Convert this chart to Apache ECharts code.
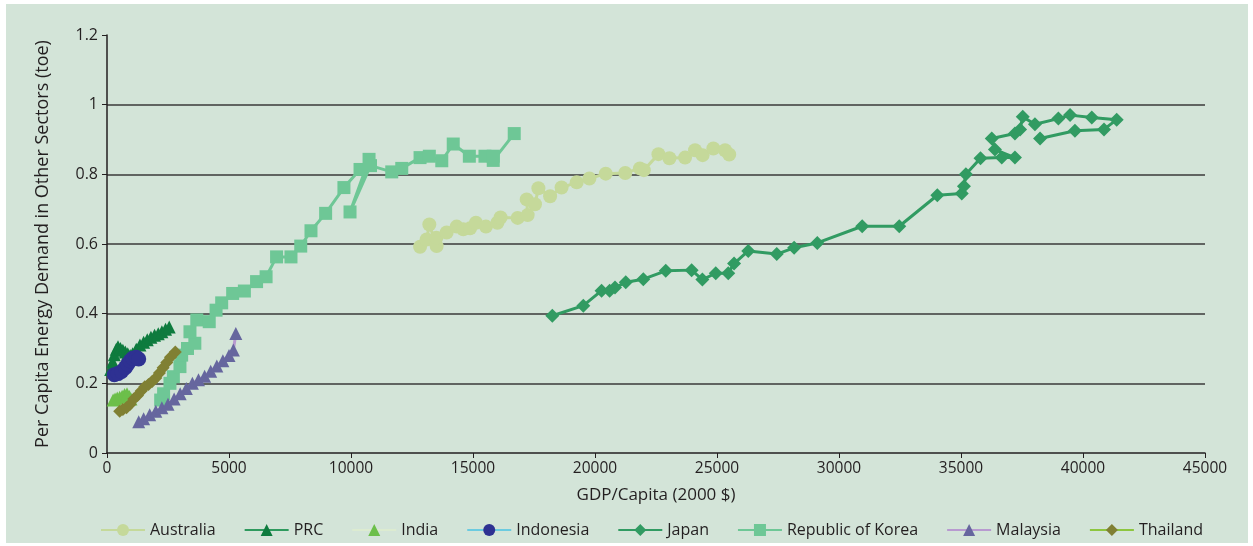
<!DOCTYPE html>
<html>
<head>
<meta charset="utf-8">
<script src="https://cdn.jsdelivr.net/npm/echarts@6/dist/echarts.min.js"></script>
<style>
  html, body { margin: 0; padding: 0; background: #fff; }
  #chart { width: 1253px; height: 546px; }
</style>
</head>
<body>
<div id="chart"></div>
<script>
// GDP per capita (2000 $) vs per capita energy demand in other sectors (toe)
var australiaData = [[12830,0.592],[13100,0.613],[13210,0.656],[13510,0.594],[13500,0.618],[13920,0.633],[14330,0.65],[14600,0.642],[14880,0.645],[15120,0.661],[15530,0.65],[16000,0.661],[16130,0.676],[16830,0.675],[17240,0.683],[17200,0.728],[17540,0.714],[17680,0.76],[18160,0.737],[18630,0.762],[19250,0.777],[19770,0.788],[20440,0.802],[21240,0.804],[21840,0.817],[22000,0.812],[22600,0.858],[23050,0.846],[23690,0.848],[24100,0.869],[24410,0.855],[24850,0.874],[25330,0.869],[25500,0.857]];
var prcData = [[150,0.24],[230,0.262],[300,0.282],[380,0.298],[450,0.305],[550,0.3],[650,0.295],[750,0.29],[850,0.285],[950,0.28],[1050,0.285],[1200,0.298],[1350,0.31],[1500,0.318],[1650,0.325],[1800,0.332],[1950,0.338],[2100,0.342],[2250,0.348],[2400,0.355],[2550,0.362]];
var indiaData = [[250,0.152],[330,0.155],[420,0.158],[520,0.16],[620,0.163],[720,0.168],[820,0.17],[920,0.162],[980,0.155]];
var indonesiaData = [[300,0.225],[450,0.228],[600,0.234],[750,0.245],[850,0.255],[950,0.265],[1050,0.272],[1200,0.275],[1300,0.27]];
var japanData = [[18250,0.394],[19520,0.423],[20270,0.466],[20600,0.466],[20820,0.475],[21260,0.49],[21980,0.499],[22900,0.523],[23960,0.525],[24400,0.498],[24950,0.516],[25460,0.516],[25700,0.544],[26280,0.58],[27450,0.571],[28160,0.589],[29110,0.603],[30950,0.651],[32470,0.651],[34030,0.74],[35030,0.745],[35120,0.766],[35200,0.8],[35800,0.846],[36670,0.848],[37210,0.848],[36390,0.871],[36260,0.903],[37210,0.917],[37420,0.929],[37530,0.965],[38030,0.944],[38990,0.96],[39470,0.97],[40360,0.963],[41380,0.957],[40860,0.929],[39670,0.925],[38240,0.903]];
var koreaData = [[2200,0.152],[2320,0.17],[2580,0.2],[2720,0.219],[2990,0.248],[3060,0.281],[3300,0.3],[3600,0.315],[3400,0.348],[3680,0.382],[4190,0.377],[4470,0.41],[4700,0.431],[5150,0.458],[5630,0.465],[6130,0.492],[6520,0.506],[6950,0.563],[7540,0.563],[7940,0.594],[8360,0.638],[8960,0.688],[9710,0.762],[10370,0.814],[10740,0.843],[9960,0.692],[10800,0.825],[11670,0.807],[12080,0.817],[12830,0.848],[13210,0.852],[13720,0.839],[14190,0.887],[14850,0.852],[15490,0.852],[15830,0.852],[15830,0.84],[16690,0.917]];
var malaysiaData = [[1300,0.09],[1500,0.098],[1750,0.11],[2000,0.12],[2250,0.13],[2500,0.14],[2750,0.155],[3000,0.17],[3250,0.185],[3500,0.2],[3750,0.21],[4000,0.22],[4250,0.235],[4500,0.25],[4750,0.265],[5000,0.28],[5180,0.296],[5280,0.343]];
var thailandData = [[520,0.12],[650,0.125],[800,0.13],[950,0.14],[1100,0.155],[1250,0.165],[1400,0.178],[1550,0.19],[1700,0.197],[1850,0.205],[2000,0.215],[2150,0.23],[2300,0.245],[2450,0.26],[2600,0.275],[2800,0.29]];

var textColor = '#231f20';
var font = 'Open Sans';

// one helper for every line series
function makeSeries(name, data, lineColor, markColor, symbol, size) {
  return {
    name: name,
    type: 'line',
    data: data,
    symbol: symbol,
    symbolSize: size,
    lineStyle: { color: lineColor, width: 3 },
    itemStyle: { color: markColor },
    emphasis: { disabled: true },
    animation: false
  };
}

var chart = echarts.init(document.getElementById('chart'));
chart.setOption({
  backgroundColor: '#fff',
  textStyle: { fontFamily: font, color: textColor },
  graphic: [{
    type: 'rect', z: -10, silent: true,
    shape: { x: 6, y: 4, width: 1242, height: 539 },
    style: { fill: '#d3e4d8' }
  }],
  grid: { left: 107, right: 48, top: 35, bottom: 93, outerBoundsMode: 'none' },
  legend: {
    top: 517,
    left: 95,
    itemWidth: 44,
    itemHeight: 15,
    itemGap: 28,
    textStyle: { fontFamily: font, fontSize: 16, color: textColor },
    data: ['Australia', 'PRC', 'India', 'Indonesia', 'Japan', 'Republic of Korea', 'Malaysia', 'Thailand']
  },
  xAxis: {
    type: 'value',
    min: 0, max: 45000, interval: 5000,
    name: 'GDP/Capita (2000 $)',
    nameLocation: 'middle',
    nameGap: 34,
    nameTextStyle: { fontFamily: font, fontSize: 17, color: textColor },
    axisLine: { lineStyle: { color: textColor, width: 1.5 } },
    axisTick: { length: 5, lineStyle: { color: textColor } },
    axisLabel: { fontSize: 15.5, color: textColor, margin: 8, formatter: function (v) { return String(v); } },
    splitLine: { show: false }
  },
  yAxis: {
    type: 'value',
    min: 0, max: 1.2, interval: 0.2,
    name: 'Per Capita Energy Demand in Other Sectors (toe)',
    nameLocation: 'middle',
    nameGap: 55,
    nameTextStyle: { fontFamily: font, fontSize: 18, color: textColor },
    axisLine: { show: true, lineStyle: { color: textColor, width: 1.5 } },
    axisTick: { show: true, length: 5, lineStyle: { color: textColor } },
    axisLabel: { fontSize: 16, color: textColor, margin: 9 },
    splitLine: { show: true, showMinLine: false, showMaxLine: false, lineStyle: { color: '#3a3a3a', width: 1.5 } }
  },
  series: [
    makeSeries('Australia', australiaData, '#c5d99a', '#c5d99a', 'circle', 14),
    makeSeries('PRC', prcData, '#2e9a5e', '#0e7b3e', 'triangle', 13),
    makeSeries('India', indiaData, '#dcebd0', '#6cbf4a', 'triangle', 13),
    makeSeries('Indonesia', indonesiaData, '#6ccbe0', '#2e3192', 'circle', 15),
    makeSeries('Japan', japanData, '#319b62', '#319b62', 'diamond', 14),
    makeSeries('Republic of Korea', koreaData, '#6ec796', '#6ec796', 'rect', 13),
    makeSeries('Malaysia', malaysiaData, '#b89ad0', '#66669e', 'triangle', 13),
    makeSeries('Thailand', thailandData, '#8dc63f', '#808033', 'diamond', 13)
  ]
});
</script>
</body>
</html>
